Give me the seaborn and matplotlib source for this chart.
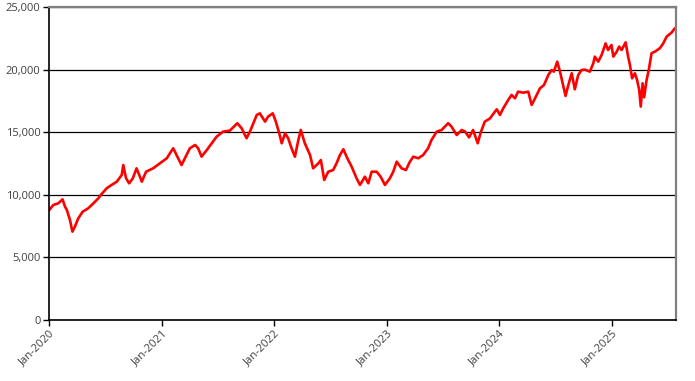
import numpy as np
import pandas as pd
import matplotlib
matplotlib.use('Agg')
import matplotlib.pyplot as plt
import matplotlib.dates as mdates
import matplotlib.ticker as mticker
import seaborn as sns

# values
dates = [
    '2020-01-02', '2020-01-15', '2020-01-31', '2020-02-14', '2020-02-22', '2020-02-28',
    '2020-03-09', '2020-03-17', '2020-03-25', '2020-04-05', '2020-04-19', '2020-05-07',
    '2020-05-24', '2020-06-09', '2020-06-20', '2020-07-06', '2020-07-22', '2020-08-08',
    '2020-08-24', '2020-08-29', '2020-09-07', '2020-09-17', '2020-09-29', '2020-10-11',
    '2020-10-22', '2020-10-28', '2020-11-11', '2020-12-04', '2020-12-26',
    '2021-01-17', '2021-02-07', '2021-02-18', '2021-03-06', '2021-03-17', '2021-04-02',
    '2021-04-19', '2021-04-29', '2021-05-10', '2021-05-27', '2021-06-12', '2021-06-28',
    '2021-07-19', '2021-08-10', '2021-09-03', '2021-09-17', '2021-10-03', '2021-10-14',
    '2021-11-05', '2021-11-15', '2021-12-02', '2021-12-12', '2021-12-27',
    '2022-01-06', '2022-01-17', '2022-01-25', '2022-02-05', '2022-02-15', '2022-02-26',
    '2022-03-09', '2022-03-20', '2022-03-28', '2022-04-10', '2022-04-27', '2022-05-07',
    '2022-05-24', '2022-06-01', '2022-06-12', '2022-06-25', '2022-07-11', '2022-07-22',
    '2022-08-02', '2022-08-13', '2022-08-26', '2022-09-09', '2022-09-25', '2022-10-06',
    '2022-10-22', '2022-11-02', '2022-11-13', '2022-11-29', '2022-12-12', '2022-12-26',
    '2023-01-11', '2023-01-22', '2023-02-02', '2023-02-18', '2023-03-04', '2023-03-17',
    '2023-03-28', '2023-04-13', '2023-04-29', '2023-05-15', '2023-05-26', '2023-06-12',
    '2023-06-28', '2023-07-19', '2023-07-30', '2023-08-16', '2023-09-01', '2023-09-12',
    '2023-09-25', '2023-10-08', '2023-10-23', '2023-11-02', '2023-11-15', '2023-12-02',
    '2023-12-18', '2023-12-24',
    '2024-01-03', '2024-01-14', '2024-01-30', '2024-02-10', '2024-02-21', '2024-03-02',
    '2024-03-19', '2024-04-04', '2024-04-15', '2024-04-26', '2024-05-12', '2024-05-25',
    '2024-06-08', '2024-06-19', '2024-06-26', '2024-07-07', '2024-07-16', '2024-07-26',
    '2024-08-03', '2024-08-12', '2024-08-23', '2024-09-02', '2024-09-13', '2024-09-24',
    '2024-10-05', '2024-10-21', '2024-11-01', '2024-11-06', '2024-11-17', '2024-11-28',
    '2024-12-11', '2024-12-19', '2024-12-30',
    '2025-01-05', '2025-01-16', '2025-01-24', '2025-02-01', '2025-02-14', '2025-02-22',
    '2025-02-28', '2025-03-07', '2025-03-16', '2025-03-23', '2025-03-30', '2025-04-04',
    '2025-04-10', '2025-04-15', '2025-04-23', '2025-04-30', '2025-05-09', '2025-05-20',
    '2025-06-05', '2025-06-16', '2025-06-27', '2025-07-13', '2025-07-24',
]
values = [
    8790, 9190, 9320, 9640, 9050, 8790,
    7990, 7060, 7460, 8120, 8650, 8920,
    9320, 9720, 10070, 10520, 10790, 11050,
    11590, 12380, 11320, 10920, 11320, 12120,
    11450, 11050, 11850, 12120, 12520,
    12920, 13720, 13180, 12380, 12920, 13720,
    13980, 13720, 13050, 13580, 14120, 14650,
    15050, 15130, 15720, 15320, 14520, 15050,
    16380, 16510, 15850, 16250, 16510,
    15850, 14920, 14120, 14920, 14520, 13720,
    13050, 14380, 15180, 14120, 13180, 12120,
    12520, 12780, 11190, 11850, 11980, 12520,
    13180, 13640, 12920, 12250, 11320, 10790,
    11450, 10920, 11850, 11850, 11450, 10790,
    11320, 11850, 12650, 12120, 11980, 12650,
    13050, 12920, 13180, 13720, 14380, 15050,
    15180, 15720, 15450, 14780, 15180, 15050,
    14590, 15180, 14120, 15000, 15850, 16110,
    16650, 16830,
    16380, 16920, 17580, 17980, 17710, 18240,
    18160, 18240, 17180, 17710, 18510, 18770,
    19570, 19970, 19840, 20640, 19840, 18770,
    17900, 18770, 19710, 18430, 19570, 19970,
    20000, 19840, 20510, 21040, 20640, 21170,
    22100, 21570, 21970,
    21040, 21440, 21840, 21570, 22180, 21040,
    20370, 19310, 19710, 19180, 18380, 17050,
    18910, 17790, 19180, 19970, 21310, 21440,
    21710, 22100, 22640, 22960, 23310,
]
y_ticks = [0, 5000, 10000, 15000, 20000, 25000]
x_ticks = ['2020-01-01', '2021-01-01', '2022-01-01', '2023-01-01', '2024-01-01', '2025-01-01']

df = pd.DataFrame({'date': pd.to_datetime(dates), 'value': values})

sns.set_style('white')
plt.rcParams['font.family'] = ['Open Sans', 'DejaVu Sans']

fig = plt.figure(figsize=(6.95, 3.81), dpi=100)
ax = fig.add_axes([0.0705, 0.160, 0.902, 0.8215])

sns.lineplot(data=df, x='date', y='value', color='#ff0000', linewidth=1.9, ax=ax)

ax.set_ylim(0, 25000)
ax.set_xlim(pd.Timestamp('2020-01-01'), pd.Timestamp('2025-07-27'))
ax.set_yticks(y_ticks)
ax.yaxis.set_major_formatter(mticker.FuncFormatter(lambda v, p: f'{int(v):,}'))
ax.set_xticks(pd.to_datetime(x_ticks))
ax.xaxis.set_major_formatter(mdates.DateFormatter('%b-%Y'))
plt.setp(ax.get_xticklabels(), rotation=45, ha='right', rotation_mode='anchor')

ax.grid(axis='y', color='black', linewidth=0.9)
ax.set_axisbelow(True)
ax.set_xlabel('')
ax.set_ylabel('')

for side in ['left', 'bottom']:
    ax.spines[side].set_color('black')
    ax.spines[side].set_linewidth(1.2)
for side in ['top', 'right']:
    ax.spines[side].set_color('#808080')
    ax.spines[side].set_linewidth(1.6)

ax.tick_params(axis='both', which='major', direction='out', length=4, width=1,
               color='black', labelsize=8, labelcolor='#404040', pad=2,
               left=True, bottom=True)

fig.savefig('out.png', dpi=100)
